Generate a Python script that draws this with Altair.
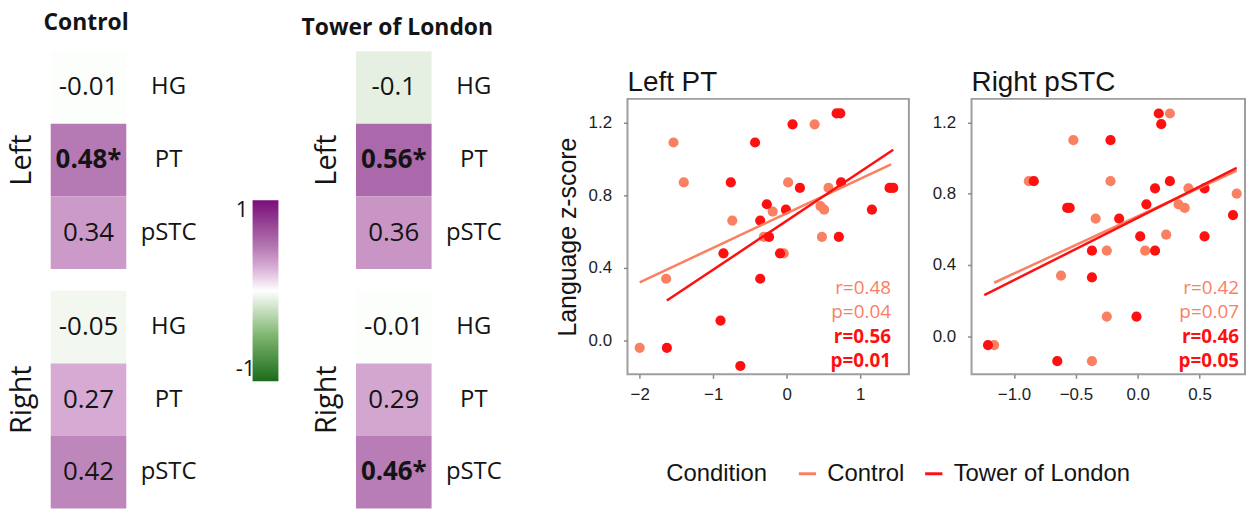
import altair as alt
import pandas as pd

HF = "Open Sans"          # heatmap / annotation font
SF = "Liberation Sans"    # scatter axes, titles, legend font
INK = "#141414"

# ---- correlation heatmaps -------------------------------------------------
regions = ["HG", "PT", "pSTC"]
hemis = ["Left", "Right"]
ctrl_r = [-0.01, 0.48, 0.34, -0.05, 0.27, 0.42]
ctrl_sig = [False, True, False, False, False, False]
tol_r = [-0.1, 0.56, 0.36, -0.01, 0.29, 0.46]
tol_sig = [False, True, False, False, False, True]

# ---- scatter data: Left PT --------------------------------------------------
lpt_ctrl_x = [-2.00, -1.64, -1.54, -1.40, -0.74, -0.31, -0.19, -0.04, 0.02, 0.38,
              0.46, 0.48, 0.51, 0.57, 1.42]
lpt_ctrl_y = [-0.04, 0.34, 1.09, 0.87, 0.66, 0.57, 0.71, 0.48, 0.87, 1.19,
              0.74, 0.57, 0.72, 0.84, 0.84]
lpt_tol_x = [-1.63, -0.63, -0.90, -0.36, -0.86, -0.36, -0.24, -0.27, -0.76, -0.43,
             0.08, 0.68, 0.73, 0.18, -0.01, -0.09, 0.71, 0.74, 1.16, 1.40, 1.45]
lpt_tol_y = [-0.04, -0.14, 0.11, 0.34, 0.48, 0.66, 0.57, 0.75, 0.87, 1.09,
             1.19, 1.25, 1.25, 0.84, 0.72, 0.48, 0.57, 0.87, 0.72, 0.84, 0.84]
lpt_fit_ctrl_x = [-2.00, 1.42]
lpt_fit_ctrl_y = [0.32, 0.97]
lpt_fit_tol_x = [-1.63, 1.45]
lpt_fit_tol_y = [0.22, 1.05]
lpt_r = [0.48, 0.56]
lpt_p = [0.04, 0.01]

# ---- scatter data: Right pSTC -----------------------------------------------
rst_ctrl_x = [-1.16, -0.37, -0.62, -0.25, -0.52, -0.88, -0.34, -0.22, -0.25, 0.06,
              0.26, 0.23, 0.41, 0.33, 0.38, 0.80]
rst_ctrl_y = [-0.05, -0.14, 0.34, 0.48, 1.10, 0.87, 0.66, 0.87, 0.11, 0.48,
              1.25, 0.57, 0.83, 0.74, 0.72, 0.80]
rst_tol_x = [-1.21, -0.65, -0.37, -0.37, -0.22, -0.57, -0.55, -0.84, -0.15, 0.02,
             0.07, 0.14, 0.14, 0.17, 0.19, 0.26, 0.54, 0.54, 0.77, -0.01]
rst_tol_y = [-0.05, -0.14, 0.33, 0.48, 1.10, 0.72, 0.72, 0.87, 0.66, 0.56,
             0.74, 0.83, 0.48, 1.25, 1.19, 0.87, 0.83, 0.56, 0.68, 0.11]
rst_fit_ctrl_x = [-1.16, 0.80]
rst_fit_ctrl_y = [0.30, 0.93]
rst_fit_tol_x = [-1.24, 0.80]
rst_fit_tol_y = [0.23, 0.945]
rst_r = [0.42, 0.46]
rst_p = [0.07, 0.05]

conditions = ["Control", "Tower of London"]
cond_colors = ["#FA8062", "#FF1010"]

# diverging green-white-purple palette for the correlation cells
heat_stops = [-1, -0.5, 0, 0.25, 0.5, 1]
heat_colors = ["#1b6b1b", "#7db56d", "#ffffff", "#d9afd6", "#b274b0", "#7a0f7a"]


def heat_df(r, sig):
    rows = []
    for i, (v, s) in enumerate(zip(r, sig)):
        rows.append({"hemi": hemis[i // 3], "region": regions[i % 3], "r": v,
                     "label": f"{v:g}" + ("*" if s else ""), "sig": s})
    return pd.DataFrame(rows)


heat_scale = alt.Scale(domain=heat_stops, range=heat_colors, interpolate="rgb")


def heatmap(df, title, title_offset, title_dx, legend):
    y_enc = alt.Y("region:N", sort=regions, title=None,
                  axis=alt.Axis(orient="right", ticks=False, tickSize=0, domain=False,
                                labelAlign="center", labelPadding=42, labelFontSize=24,
                                labelFont=HF, labelColor=INK))
    rect = alt.Chart().mark_rect().encode(
        y=y_enc, color=alt.Color("r:Q", scale=heat_scale, legend=legend))
    plain = alt.Chart().mark_text(font=HF, fontSize=26, color=INK).encode(
        y=alt.Y("region:N", sort=regions), text="label:N"
    ).transform_filter("!datum.sig")
    bold = alt.Chart().mark_text(font=HF, fontSize=26, fontWeight="bold", color=INK).encode(
        y=alt.Y("region:N", sort=regions), text="label:N"
    ).transform_filter("datum.sig")
    return alt.layer(rect, plain, bold, data=df).properties(width=76, height=219).facet(
        row=alt.Row("hemi:N", sort=hemis, title=None,
                    header=alt.Header(labelAngle=-90, labelOrient="left", labelFontSize=29,
                                      labelFont=HF, labelColor=INK, labelPadding=0)),
        spacing=22,
        title=alt.TitleParams(title, font=HF, fontSize=23, fontWeight="bold",
                              offset=title_offset, anchor="middle", dx=title_dx,
                              color=INK),
    )


colorbar = alt.Legend(orient="none", legendX=203, legendY=150, title=None,
                      direction="vertical", gradientLength=182, gradientThickness=26,
                      values=[-1, 1], labelOffset={"expr": "-43"},
                      labelFontSize=22, labelFont=HF, labelColor=INK,
                      gradientStrokeWidth=0,
                      labelExpr="replace(datum.label, '\u2212', '-')")

ctrl_heat = heatmap(heat_df(ctrl_r, ctrl_sig), "Control", 16, -16, colorbar)
tol_heat = heatmap(heat_df(tol_r, tol_sig), "Tower of London", 11, -10, None)

cond_scale = alt.Scale(domain=conditions, range=cond_colors)

cond_legend = alt.Legend(orient="none", legendX=39, legendY=413, direction="horizontal",
                         title="Condition", titleOrient="left", titleFont=SF,
                         titleFontSize=24, titleFontWeight="normal", titleColor=INK,
                         titlePadding=28, labelFont=SF, labelFontSize=24, labelColor=INK,
                         labelLimit=400, titleLimit=400,
                         symbolType="stroke", symbolStrokeWidth=3, symbolSize=300,
                         labelOffset=8, columnPadding=14)


def scatter(cx, cy, tx, ty, fcx, fcy, ftx, fty, r, p, title, xdom, ydom, xticks,
            xfmt, ytitle, width, text_dx):
    fit = pd.DataFrame({"x": fcx + ftx, "y": fcy + fty,
                        "cond": [conditions[0]] * len(fcx) + [conditions[1]] * len(ftx)})
    xaxis = alt.Axis(values=xticks, format=xfmt, title=None, grid=False, domain=False,
                     tickSize=4, tickColor="#8a8a8a", tickWidth=1.5, labelFont=SF,
                     labelFontSize=17, labelColor="#1e1e1e", labelPadding=8,
                     labelFlush=False)
    yaxis = alt.Axis(values=[0, 0.4, 0.8, 1.2], format=".1f", grid=False, domain=False,
                     tickSize=4, tickColor="#8a8a8a", tickWidth=1.5, labelFont=SF,
                     labelFontSize=17, labelColor="#1e1e1e", labelPadding=12,
                     labelFlush=False, title=ytitle, titleFont=SF, titleFontSize=25,
                     titleFontWeight="normal", titleColor=INK, titlePadding=8)
    xs = alt.Scale(domain=xdom, nice=False, zero=False)
    ys = alt.Scale(domain=ydom, nice=False, zero=False)
    layers = []
    # one dot layer per condition, Control first so Tower of London sits on top
    for xs_, ys_, col in ((cx, cy, cond_colors[0]), (tx, ty, cond_colors[1])):
        layers.append(
            alt.Chart(pd.DataFrame({"x": xs_, "y": ys_})).mark_circle(
                size=105, opacity=1, color=col
            ).encode(x=alt.X("x:Q", scale=xs, axis=xaxis),
                     y=alt.Y("y:Q", scale=ys, axis=yaxis))
        )
    layers.append(
        alt.Chart(fit).mark_line(strokeWidth=2.5).encode(
            x="x:Q", y="y:Q",
            color=alt.Color("cond:N", scale=cond_scale, legend=cond_legend),
        )
    )
    stat_rows = [(f"r={r[0]:.2f}", cond_colors[0], "normal"),
                 (f"p={p[0]:.2f}", cond_colors[0], "normal"),
                 (f"r={r[1]:.2f}", cond_colors[1], "bold"),
                 (f"p={p[1]:.2f}", cond_colors[1], "bold")]
    for i, (txt, col, wt) in enumerate(stat_rows):
        layers.append(
            alt.Chart(pd.DataFrame({"t": [txt]})).mark_text(
                align="right", baseline="middle", font=HF, fontSize=19, color=col,
                fontWeight=wt
            ).encode(x=alt.value(width - text_dx), y=alt.value(190 + 24.5 * i), text="t:N")
        )
    return alt.layer(*layers).properties(
        width=width, height=277,
        title=alt.TitleParams(title, anchor="start", frame="group", font=SF,
                              fontSize=28, fontWeight="normal", offset=2, color=INK),
        view=alt.ViewBackground(stroke="#9e9e9e", strokeWidth=2),
    )


left_pt = scatter(lpt_ctrl_x, lpt_ctrl_y, lpt_tol_x, lpt_tol_y,
                  lpt_fit_ctrl_x, lpt_fit_ctrl_y, lpt_fit_tol_x, lpt_fit_tol_y,
                  lpt_r, lpt_p, "Left PT", [-2.166, 1.663], [-0.186, 1.330],
                  [-2, -1, 0, 1], "d", "Language z-score", 283, 18)
right_pstc = scatter(rst_ctrl_x, rst_ctrl_y, rst_tol_x, rst_tol_y,
                     rst_fit_ctrl_x, rst_fit_ctrl_y, rst_fit_tol_x, rst_fit_tol_y,
                     rst_r, rst_p, "Right pSTC", [-1.343, 0.867], [-0.214, 1.332],
                     [-1.0, -0.5, 0.0, 0.5], ".1f", None, 275, 6)

# small empty view that lowers the scatter row below the heatmap tops
spacer = alt.Chart(pd.DataFrame({"v": [0]})).mark_point(opacity=0).properties(
    width=1, height=1)

heat_block = alt.hconcat(ctrl_heat, tol_heat, spacing=105)
scatter_row = alt.hconcat(left_pt, right_pstc, spacing=21)
scatter_block = alt.vconcat(spacer, scatter_row, spacing=13)

chart = alt.hconcat(heat_block, scatter_block, spacing=52).resolve_scale(
    color="independent"
).properties(
    padding={"left": 7, "top": 11, "right": 0, "bottom": 0},
    background="white",
).configure_view(stroke=None)

chart.save("out.html", embed_options={"renderer": "svg", "actions": False})
